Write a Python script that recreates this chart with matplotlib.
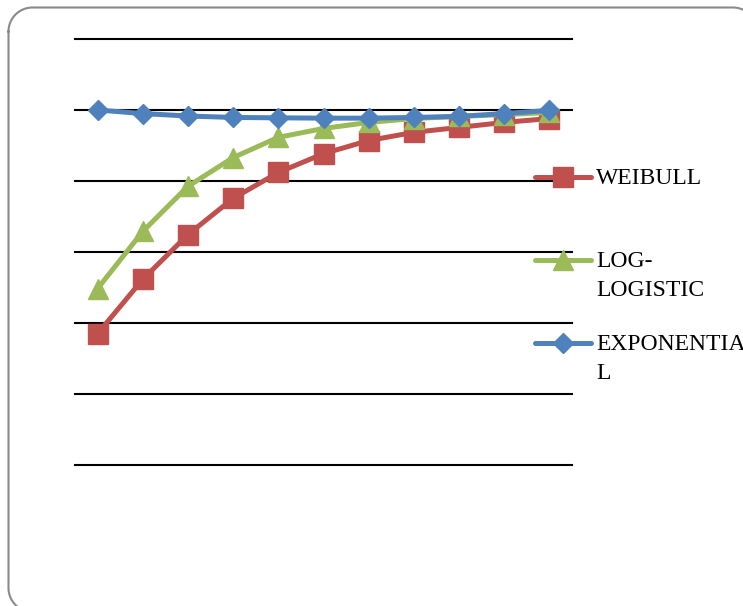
import numpy as np
import matplotlib.pyplot as plt
from matplotlib.lines import Line2D

# survival curves at 11 time points
t = list(range(1, 12))
weibull = [0.370, 0.523, 0.649, 0.751, 0.824, 0.877, 0.914, 0.937, 0.951, 0.965, 0.976]
loglogistic = [0.497, 0.658, 0.785, 0.866, 0.923, 0.948, 0.965, 0.976, 0.982, 0.987, 0.993]
exponential = [1.000, 0.990, 0.983, 0.979, 0.978, 0.977, 0.977, 0.979, 0.982, 0.990, 0.999]

names = ["WEIBULL", "LOG-\nLOGISTIC", "EXPONENTIA\nL"]
colors = ["#C0504D", "#9BBB59", "#4F81BD"]
markers = ["s", "^", "D"]
msizes = [14, 14, 10.5]

W, H = 743, 606
fig = plt.figure(figsize=(W / 100, H / 100), dpi=100)

# background layer in pixel units (y down) for the rounded outer frame
bg = fig.add_axes([0, 0, 1, 1], zorder=-1)
bg.set_xlim(0, W)
bg.set_ylim(H, 0)
bg.axis("off")
x0, y0, x1, y1, r = 8.5, 7.5, 757, 612, 24
a = np.linspace(0, np.pi / 2, 20)
fx = np.concatenate([x0 + r - r * np.cos(a), x1 - r + r * np.sin(a),
                     x1 - r + r * np.cos(a), x0 + r - r * np.sin(a), [x0]])
fy = np.concatenate([y0 + r - r * np.sin(a), y0 + r - r * np.cos(a),
                     y1 - r + r * np.sin(a), y1 - r + r * np.cos(a), [y0 + r]])
bg.plot(fx, fy, color="#8a8a8a", lw=1.5, solid_joinstyle="round")

ax = fig.add_axes([75 / W, 1 - 465 / H, 497 / W, 426 / H])
for y, c, m, ms in zip([weibull, loglogistic, exponential], colors, markers, msizes):
    ax.plot(t, y, color=c, lw=3.6, marker=m, ms=ms, solid_capstyle="round", clip_on=False)

ax.set_xlim(0.5, 11.5)
ax.set_ylim(0, 1.2)
ax.set_yticks([0, 0.2, 0.4, 0.6, 0.8, 1.0, 1.2])
ax.set_xticks([])
ax.tick_params(left=False, labelleft=False)
ax.grid(axis="y", color="black", lw=1.5)
ax.set_axisbelow(True)
ax.patch.set_visible(False)
for gl in ax.get_ygridlines():
    gl.set_clip_on(False)
for s in ax.spines.values():
    s.set_visible(False)

# legend keys on the right
for i, (nm, c, m, ms) in enumerate(zip(names, colors, markers, msizes)):
    yp = 1 - (177 + 83 * i) / H
    fig.add_artist(Line2D([535 / W, 563 / W, 591 / W], [yp, yp, yp], transform=fig.transFigure,
                          color=c, lw=3.6, marker=m, ms=ms, markevery=[1], solid_capstyle="round"))
    fig.text(596 / W, yp + 9 / H, nm, family="Liberation Serif", fontsize=17,
             va="top", ha="left", linespacing=1.5)

fig.savefig("out.png", dpi=100)
